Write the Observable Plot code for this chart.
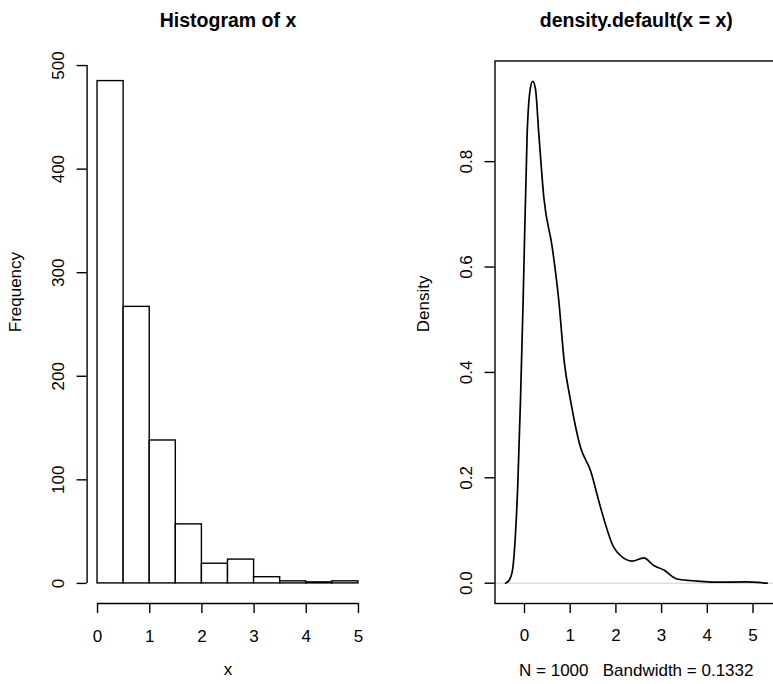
<!DOCTYPE html>
<html><head><meta charset="utf-8">
<script src="https://cdn.jsdelivr.net/npm/d3@7"></script>
<script src="https://cdn.jsdelivr.net/npm/@observablehq/plot@0.6"></script>
<style>
body{margin:0;background:#fff;overflow:hidden}
#wrap{position:relative;width:773px;height:684px;overflow:hidden;background:#fff}
#wrap svg{position:absolute;top:0}
</style></head><body><div id="wrap"></div>
<script>
// Histogram data
const binStarts = [0, 0.5, 1, 1.5, 2, 2.5, 3, 3.5, 4, 4.5];
const binEnds   = [0.5, 1, 1.5, 2, 2.5, 3, 3.5, 4, 4.5, 5];
const counts    = [485, 267, 138, 57, 19, 23, 6, 2, 1, 2];
const histXTicks = [0, 1, 2, 3, 4, 5];
const histYTicks = [0, 100, 200, 300, 400, 500];

// Density curve data
const densX = [-0.416, -0.34, -0.27, -0.197, -0.146, -0.088, -0.03, 0.058, 0.131, 0.18, 0.24, 0.313, 0.423, 0.606, 0.751, 0.87, 1.007, 1.225, 1.444, 1.663, 1.954, 2.1, 2.357, 2.61, 2.83, 3.05, 3.34, 3.78, 4.14, 4.87, 5.0, 5.31];
const densY = [0, 0.005, 0.021, 0.094, 0.189, 0.347, 0.536, 0.853, 0.941, 0.9526, 0.938, 0.853, 0.732, 0.638, 0.536, 0.42, 0.347, 0.258, 0.214, 0.144, 0.068, 0.0526, 0.042, 0.048, 0.0336, 0.025, 0.008, 0.004, 0.002, 0.0025, 0.002, 0];
const densXTicks = [0, 1, 2, 3, 4, 5];
const densYTicks = [0, 0.2, 0.4, 0.6, 0.8];

const FONT = "'Liberation Sans', Arial, Helvetica, sans-serif";
const FS = 17;
const LW = 1.4;
const style = {fontFamily: FONT, fontSize: FS + "px", color: "#000", background: "transparent"};

const bins = counts.map((c, i) => ({x1: binStarts[i], x2: binEnds[i], count: c}));

const hist = Plot.plot({
  width: 386, height: 684,
  marginLeft: 86.6, marginRight: 17.6, marginTop: 60.5, marginBottom: 81,
  x: {domain: [-0.2, 5.2], label: null},
  y: {domain: [-19.4, 504.4], label: null},
  style,
  marks: [
    Plot.rect(bins, {x1: "x1", x2: "x2", y1: 0, y2: "count", fill: "white", stroke: "black", strokeWidth: LW}),
    Plot.ruleX([-0.2], {y1: histYTicks[0], y2: histYTicks[histYTicks.length - 1], strokeWidth: LW}),
    Plot.ruleY([-19.4], {x1: histXTicks[0], x2: histXTicks[histXTicks.length - 1], strokeWidth: LW}),
    Plot.axisX({ticks: histXTicks, tickFormat: d3.format("d"), tickSize: 10, tickPadding: 16, strokeWidth: LW, label: null, fontSize: FS}),
    Plot.axisY({ticks: histYTicks, tickFormat: d3.format("d"), tickSize: 10, tickPadding: 13.6, tickRotate: -90, strokeWidth: LW, label: null, fontSize: FS}),
    Plot.text(["Histogram of x"], {frameAnchor: "top", dy: -34, lineAnchor: "bottom", fontWeight: "bold", fontSize: 19.5}),
    Plot.text(["Frequency"], {frameAnchor: "left", dx: -71.5, rotate: -90, fontSize: FS}),
    Plot.text(["x"], {frameAnchor: "bottom", dy: 71.3, fontSize: FS})
  ]
});
hist.style.left = "0px";

const densData = densX.map((x, i) => ({x, y: densY[i]}));

const dens = Plot.plot({
  width: 391, height: 684,
  marginLeft: 108.5, marginRight: 0, marginTop: 60.5, marginBottom: 81,
  x: {domain: [-0.6455, 5.536], label: null},
  y: {domain: [-0.0385, 0.991], label: null},
  style,
  marks: [
    Plot.ruleY([0], {stroke: "#cccccc", strokeWidth: 1}),
    Plot.line(densData, {x: "x", y: "y", curve: "monotone-x", strokeWidth: 1.7, stroke: "black"}),
    Plot.frame({stroke: "black", strokeWidth: LW}),
    Plot.axisX({ticks: densXTicks, tickFormat: d3.format("d"), tickSize: 10, tickPadding: 15.5, strokeWidth: LW, label: null, fontSize: FS}),
    Plot.axisY({ticks: densYTicks, tickFormat: d3.format(".1f"), tickSize: 10, tickPadding: 12.8, tickRotate: -90, strokeWidth: LW, label: null, fontSize: FS}),
    Plot.text(["density.default(x = x)"], {frameAnchor: "top", dy: -34, lineAnchor: "bottom", fontWeight: "bold", fontSize: 19.5}),
    Plot.text(["Density"], {frameAnchor: "left", dx: -71.1, rotate: -90, fontSize: FS}),
    Plot.text(["N = 1000   Bandwidth = 0.1332"], {frameAnchor: "bottom", dy: 72.6, fontSize: FS})
  ]
});
dens.style.left = "386px";

const wrap = document.getElementById("wrap");
wrap.appendChild(hist);
wrap.appendChild(dens);
</script>
</body></html>
